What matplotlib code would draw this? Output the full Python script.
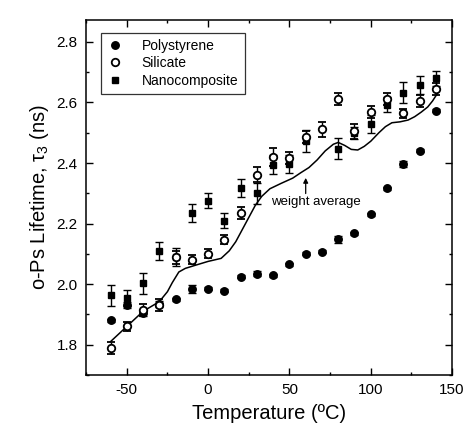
import numpy as np
import matplotlib.pyplot as plt
from matplotlib.lines import Line2D
from matplotlib.ticker import MultipleLocator

plt.rcParams["font.family"] = ["Liberation Sans", "DejaVu Sans"]
plt.rcParams["mathtext.fontset"] = "custom"
plt.rcParams["mathtext.rm"] = "Liberation Sans"
plt.rcParams["mathtext.it"] = "Liberation Sans"
plt.rcParams["axes.unicode_minus"] = False

# Polystyrene (filled circles)
temp_ps = [-60, -50, -40, -30, -20, -10, 0, 10, 20, 30, 40, 50, 60, 70, 80, 90, 100, 110, 120, 130, 140]
tau_ps = [1.88, 1.93, 1.905, 1.935, 1.95, 1.984, 1.985, 1.978, 2.024, 2.034, 2.03, 2.066, 2.10, 2.107,
          2.148, 2.168, 2.23, 2.317, 2.397, 2.44, 2.573]
err_ps = [0.005, 0.01, 0.01, 0.01, 0.005, 0.012, 0.005, 0.005, 0.005, 0.008, 0.005, 0.005, 0.005,
          0.005, 0.012, 0.005, 0.005, 0.005, 0.01, 0.005, 0.005]

# Silicate (open circles)
temp_si = [-60, -50, -40, -30, -20, -10, 0, 10, 20, 30, 40, 50, 60, 70, 80, 90, 100, 110, 120, 130, 140]
tau_si = [1.789, 1.86, 1.915, 1.93, 2.088, 2.08, 2.10, 2.147, 2.235, 2.362, 2.42, 2.418, 2.485, 2.512,
          2.61, 2.505, 2.568, 2.61, 2.565, 2.605, 2.643]
err_si = [0.02, 0.015, 0.02, 0.02, 0.02, 0.015, 0.015, 0.015, 0.02, 0.025, 0.03, 0.02, 0.02, 0.025,
          0.02, 0.025, 0.02, 0.02, 0.015, 0.02, 0.02]

# Nanocomposite (filled squares)
temp_nc = [-60, -50, -40, -30, -20, -10, 0, 10, 20, 30, 40, 50, 60, 80, 90, 100, 110, 120, 130, 140]
tau_nc = [1.963, 1.954, 2.003, 2.108, 2.09, 2.236, 2.275, 2.21, 2.317, 2.30, 2.395, 2.397, 2.473,
          2.447, 2.50, 2.53, 2.592, 2.632, 2.658, 2.68]
err_nc = [0.035, 0.025, 0.035, 0.03, 0.03, 0.03, 0.025, 0.025, 0.03, 0.035, 0.03, 0.03, 0.035,
          0.035, 0.02, 0.03, 0.025, 0.035, 0.03, 0.025]

# weight average curve
temp_wa = [-60, -50, -40, -30, -25, -22, -18, -14, -8, 0, 8, 13, 17, 21, 25, 29, 33, 38, 45, 52, 57,
           62, 67, 72, 77, 80, 84, 88, 92, 96, 100, 105, 109, 113, 118, 123, 127, 131, 135, 138, 141]
tau_wa = [1.81, 1.86, 1.91, 1.942, 1.975, 2.005, 2.04, 2.052, 2.062, 2.075, 2.085, 2.11, 2.14, 2.18,
          2.22, 2.26, 2.29, 2.315, 2.333, 2.35, 2.368, 2.385, 2.41, 2.44, 2.462, 2.468, 2.458, 2.445,
          2.443, 2.455, 2.472, 2.50, 2.52, 2.533, 2.536, 2.542, 2.553, 2.568, 2.585, 2.605, 2.63]

fig = plt.figure(figsize=(4.68, 4.28), dpi=100)
ax = fig.add_axes([0.184, 0.124, 0.782, 0.829])

ax.plot(temp_wa, tau_wa, color="black", lw=1.1, zorder=2)

ebkw = dict(ecolor="black", elinewidth=1.0, capsize=3, capthick=1.0, linestyle="none")
ax.errorbar(temp_ps, tau_ps, yerr=err_ps, fmt="o", ms=5.4, mfc="black", mec="black", zorder=3, **ebkw)
ax.errorbar(temp_nc, tau_nc, yerr=err_nc, fmt="s", ms=5.0, mfc="black", mec="black", zorder=4, **ebkw)
ax.errorbar(temp_si, tau_si, yerr=err_si, fmt="o", ms=5.4, mfc="white", mec="black", mew=1.3,
            zorder=5, **ebkw)

# weight average annotation
ax.annotate("", xy=(60, 2.36), xytext=(60, 2.29),
            arrowprops=dict(arrowstyle="-|>", color="black", lw=0.9, mutation_scale=7))
ax.text(38.5, 2.272, "weight average", fontsize=9.5, va="center", ha="left")

ax.set_xlim(-75, 150)
ax.set_ylim(1.70, 2.872)
ax.xaxis.set_major_locator(MultipleLocator(50))
ax.xaxis.set_minor_locator(MultipleLocator(25))
ax.yaxis.set_major_locator(MultipleLocator(0.2))
ax.yaxis.set_minor_locator(MultipleLocator(0.1))
ax.yaxis.set_major_formatter(plt.FormatStrFormatter("%.1f"))
ax.tick_params(which="both", direction="in", top=True, right=True, width=1.0, labelsize=11, pad=6)
ax.tick_params(which="major", length=5)
ax.tick_params(which="minor", length=2.5)
for s in ax.spines.values():
    s.set_linewidth(1.1)

ax.set_xlabel("Temperature (\u00baC)", fontsize=14.5, labelpad=5)
ax.set_ylabel(r"o-Ps Lifetime, $\tau_3$ (ns)", fontsize=14.5, labelpad=4)

handles = [
    Line2D([], [], marker="o", ms=5.4, color="black", linestyle="none"),
    Line2D([], [], marker="o", ms=5.4, mfc="white", mec="black", mew=1.3, linestyle="none"),
    Line2D([], [], marker="s", ms=5.0, color="black", linestyle="none"),
]
leg = ax.legend(handles, ["Polystyrene", "Silicate", "Nanocomposite"], loc="upper left",
                bbox_to_anchor=(0.04, 0.965), borderaxespad=0, fontsize=10, frameon=True,
                fancybox=False, edgecolor="black", handlelength=1.2, handletextpad=1.3,
                labelspacing=0.25, borderpad=0.45)
leg.get_frame().set_linewidth(0.9)

fig.savefig("out.png", dpi=100)
